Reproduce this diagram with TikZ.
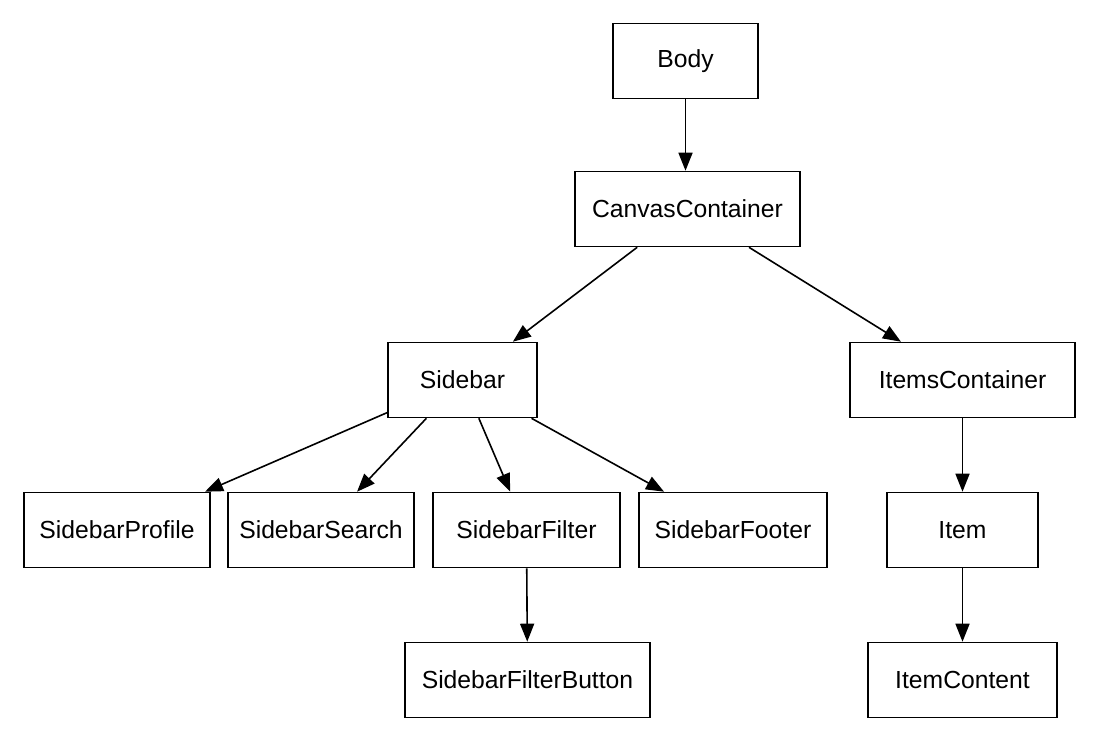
\documentclass[tikz,border=0pt]{standalone}
\usepackage{fontspec}
\setmainfont{Liberation Sans}
\usetikzlibrary{arrows.meta}
\begin{document}
\begin{tikzpicture}[x=1pt,y=-1pt,
  box/.style={draw=black,line width=1.6pt,minimum height=75pt,inner sep=0pt,font=\fontsize{24.7}{28}\selectfont},
  edge/.style={line width=1.6pt,-{Triangle[length=18pt,width=14pt]}}]
\useasboundingbox (0,0) rectangle (1097,741);
\node[box,minimum width=145pt] (body) at (685.5,61) {Body};
\node[box,minimum width=225pt] (canvas) at (687.5,209) {CanvasContainer};
\node[box,minimum width=149pt] (sidebar) at (462.5,380) {Sidebar};
\node[box,minimum width=225pt] (items) at (962.5,380) {ItemsContainer};
\node[box,minimum width=186pt] (profile) at (117,530) {SidebarProfile};
\node[box,minimum width=186pt] (search) at (321,530) {SidebarSearch};
\node[box,minimum width=187pt] (filter) at (526.5,530) {SidebarFilter};
\node[box,minimum width=188pt] (footer) at (733,530) {SidebarFooter};
\node[box,minimum width=151pt] (item) at (962.5,530) {Item};
\node[box,minimum width=245pt] (button) at (527.5,680) {SidebarFilterButton};
\node[box,minimum width=189pt] (content) at (962.5,680) {ItemContent};
\draw[edge] (body.south) -- (body.south |- canvas.north);
\draw[edge] (canvas) -- (sidebar);
\draw[edge] (canvas) -- (items);
\draw[edge] (sidebar) -- (profile);
\draw[edge] (sidebar) -- (search);
\draw[edge] (sidebar) -- (filter);
\draw[edge] (sidebar) -- (footer);
\draw[edge] (filter) -- (button);
\draw[edge] (items) -- (item);
\draw[edge] (item) -- (content);
\end{tikzpicture}
\end{document}
